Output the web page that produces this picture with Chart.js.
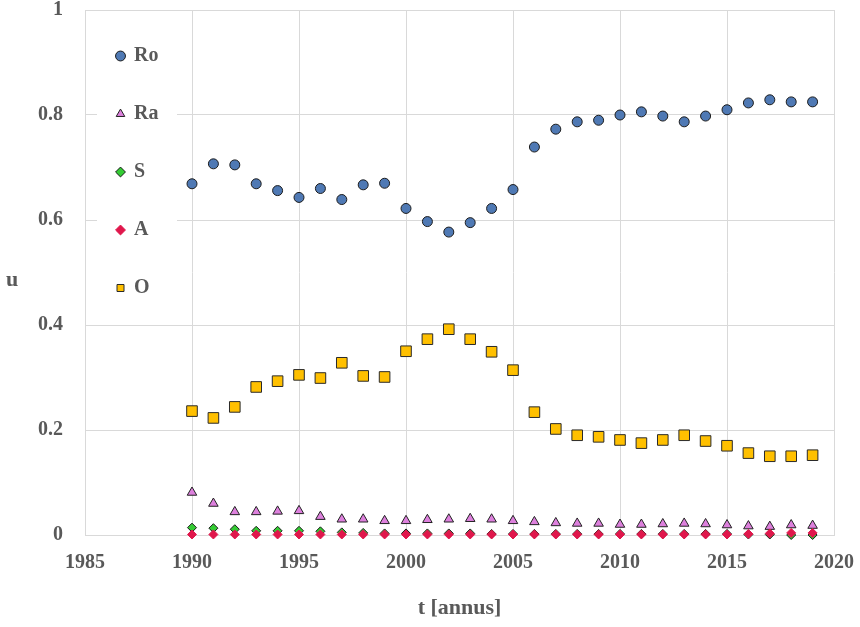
<!DOCTYPE html>
<html>
<head>
<meta charset="utf-8">
<script src="https://cdn.jsdelivr.net/npm/chart.js@4/dist/chart.umd.min.js"></script>
<style>
	html, body { margin: 0; padding: 0; background: #fff; }
	#wrap { width: 860px; height: 627px; }
</style>
</head>
<body>
<div id="wrap"><canvas id="myChart" width="860" height="627"></canvas></div>
<script>
// data
var years = [1990, 1991, 1992, 1993, 1994, 1995, 1996, 1997, 1998, 1999,
	2000, 2001, 2002, 2003, 2004, 2005, 2006, 2007, 2008, 2009,
	2010, 2011, 2012, 2013, 2014, 2015, 2016, 2017, 2018, 2019];
var ro = [0.669, 0.707, 0.705, 0.669, 0.656, 0.643, 0.660, 0.639, 0.667, 0.670,
	0.622, 0.597, 0.577, 0.595, 0.622, 0.658, 0.739, 0.773, 0.787, 0.790,
	0.800, 0.806, 0.798, 0.787, 0.798, 0.810, 0.823, 0.829, 0.825, 0.825];
var ra = [0.081, 0.060, 0.044, 0.044, 0.045, 0.046, 0.035, 0.030, 0.030, 0.027,
	0.027, 0.029, 0.030, 0.031, 0.030, 0.027, 0.025, 0.023, 0.022, 0.022,
	0.020, 0.020, 0.021, 0.022, 0.021, 0.019, 0.017, 0.016, 0.019, 0.018];
var s = [0.014, 0.013, 0.011, 0.008, 0.008, 0.008, 0.007, 0.005, 0.004, 0.003,
	0.003, 0.003, 0.003, 0.003, 0.002, 0.002, 0.002, 0.002, 0.002, 0.002,
	0.002, 0.002, 0.002, 0.002, 0.002, 0.002, 0.001, 0.001, 0.000, 0.000];
var a = [0.001, 0.001, 0.001, 0.001, 0.001, 0.001, 0.001, 0.001, 0.001, 0.001,
	0.001, 0.001, 0.001, 0.001, 0.001, 0.001, 0.001, 0.001, 0.001, 0.001,
	0.001, 0.001, 0.001, 0.001, 0.001, 0.001, 0.002, 0.003, 0.004, 0.004];
var o = [0.236, 0.223, 0.244, 0.282, 0.293, 0.305, 0.299, 0.328, 0.303, 0.301,
	0.350, 0.373, 0.392, 0.373, 0.349, 0.314, 0.234, 0.202, 0.190, 0.187,
	0.181, 0.175, 0.181, 0.190, 0.179, 0.170, 0.156, 0.150, 0.150, 0.152];
var xTicks = [1985, 1990, 1995, 2000, 2005, 2010, 2015, 2020];
var yTicks = [0, 0.2, 0.4, 0.6, 0.8, 1];

var grey = '#595959';
var fontFam = '"Liberation Serif", "Times New Roman", serif';

function pts(vals) {
	return years.map(function (y, i) { return { x: y, y: vals[i] }; });
}

var extras = {
	id: 'extras',
	// nudge the legend inside the plot
	afterLayout: function (chart) {
		var lg = chart.legend;
		lg.left -= 6;
		lg.right -= 6;
		lg.top += 8;
		lg.bottom += 8;
	},
	// white box behind the legend, then legend again on top
	beforeDatasetsDraw: function (chart) {
		var c = chart.ctx;
		c.save();
		c.fillStyle = '#fff';
		c.fillRect(97, 28, 80, 276);
		c.restore();
		chart.legend.draw();
	},
	// y title, not rotated
	afterDraw: function (chart) {
		var c = chart.ctx;
		c.save();
		c.font = 'bold 22px ' + fontFam;
		c.fillStyle = grey;
		c.textAlign = 'center';
		c.textBaseline = 'middle';
		c.fillText('u', 12, 280);
		c.restore();
	}
};

var ctx = document.getElementById('myChart').getContext('2d');
var chart = new Chart(ctx, {
	type: 'scatter',
	data: {
		// later series on top, like the original
		datasets: [{
			label: 'Ro',
			data: pts(ro),
			order: 5,
			pointStyle: 'circle',
			pointRadius: 5,
			backgroundColor: '#4f79b4',
			borderColor: '#1c1c1c',
			borderWidth: 1,
			clip: false
		}, {
			label: 'Ra',
			data: pts(ra),
			order: 4,
			pointStyle: 'triangle',
			pointRadius: 5.5,
			backgroundColor: '#dd80dd',
			borderColor: '#222',
			borderWidth: 1,
			clip: false
		}, {
			label: 'S',
			data: pts(s),
			order: 3,
			pointStyle: 'rectRot',
			pointRadius: 4.5,
			backgroundColor: '#33cc33',
			borderColor: '#1a1a1a',
			borderWidth: 1,
			clip: false
		}, {
			label: 'A',
			data: pts(a),
			order: 2,
			pointStyle: 'rectRot',
			pointRadius: 4.5,
			backgroundColor: '#e0174c',
			borderColor: '#e0174c',
			borderWidth: 1,
			clip: false
		}, {
			label: 'O',
			data: pts(o),
			order: 1,
			pointStyle: 'rect',
			pointRadius: 7.5,
			backgroundColor: '#ffc000',
			borderColor: '#2a2a2a',
			borderWidth: 1,
			clip: false
		}]
	},
	options: {
		responsive: false,
		animation: false,
		layout: { padding: { top: 10, right: 26, left: 0, bottom: 0 } },
		plugins: {
			tooltip: { enabled: false },
			legend: {
				position: 'chartArea',
				align: 'start',
				labels: {
					usePointStyle: true,
					boxWidth: 7,
					boxHeight: 7,
					padding: 38,
					color: grey,
					font: { family: fontFam, size: 20, weight: 'bold' },
					sort: function (x, y) { return x.datasetIndex - y.datasetIndex; }
				}
			}
		},
		scales: {
			x: {
				type: 'linear',
				min: 1985,
				max: 2020,
				afterBuildTicks: function (sc) {
					sc.ticks = xTicks.map(function (v) { return { value: v }; });
				},
				afterFit: function (sc) {
					sc.height = 92;
					sc.paddingLeft = 0;
					sc.paddingRight = 0;
				},
				grid: { color: '#d9d9d9', drawTicks: false },
				border: { color: '#d9d9d9' },
				ticks: {
					padding: 16,
					color: grey,
					font: { family: fontFam, size: 20, weight: 'bold' },
					callback: function (v) { return String(v); }
				},
				title: {
					display: true,
					text: 't [annus]',
					color: grey,
					font: { family: fontFam, size: 22, weight: 'bold' },
					padding: { top: 4, bottom: 5 }
				}
			},
			y: {
				min: 0,
				max: 1,
				afterBuildTicks: function (sc) {
					sc.ticks = yTicks.map(function (v) { return { value: v }; });
				},
				afterFit: function (sc) {
					sc.width = 85;
					sc.paddingTop = 0;
					sc.paddingBottom = 0;
				},
				grid: { color: '#d9d9d9', drawTicks: false },
				border: { color: '#d9d9d9' },
				ticks: {
					padding: 22,
					color: grey,
					font: { family: fontFam, size: 20, weight: 'bold' },
					callback: function (v) { return String(Math.round(v * 10) / 10); }
				}
			}
		}
	},
	plugins: [extras]
});
</script>
</body>
</html>
